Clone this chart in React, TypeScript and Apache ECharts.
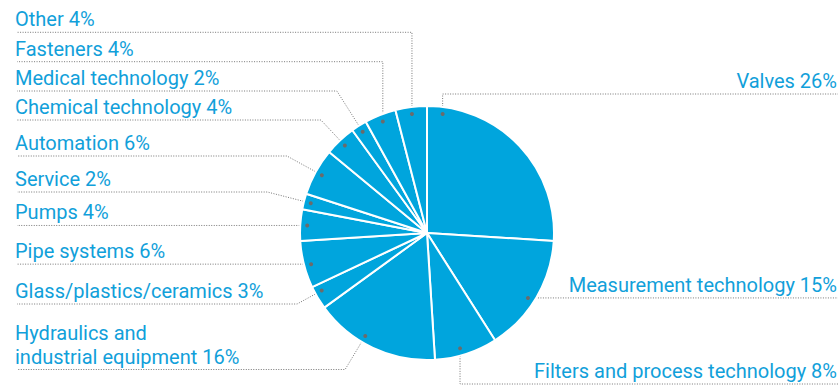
import { useEffect, useRef } from 'react';
import * as echarts from 'echarts';

// ---- data ----
const categories = [
  'Valves',
  'Measurement technology',
  'Filters and process technology',
  'Hydraulics and\nindustrial equipment',
  'Glass/plastics/ceramics',
  'Pipe systems',
  'Pumps',
  'Service',
  'Automation',
  'Chemical technology',
  'Medical technology',
  'Fasteners',
  'Other',
];
const shares = [26, 15, 8, 16, 3, 6, 4, 2, 6, 4, 2, 4, 4];

// ---- label layout (not data) ----
const labelSide = ['right', 'right', 'right', 'left', 'left', 'left', 'left', 'left', 'left', 'left', 'left', 'left', 'left'];
const underlineY: (number | null)[] = [94, null, 384, 369.5, 304, null, null, 192, 156, 120, 91, 61.7, 32.3];
const leaderMode = ['v', 'h', 'v', 'r', 'r', 'h', 'h', 'r', 'r', 'r', 'r', 'v', 'v'];
const anchorFrac = [0.08, 0.54, 0.57, 0.6, 0.68, 0.47, 0.5, 0.5, 0.5, 0.5, 0.5, 0.5, 0.5];

const CX = 427;
const CY = 233;
const R = 127;
const RD = 120;
const LEFT_X = 15;
const RIGHT_X = 837;
const TEXT_COLOR = '#11a0da';
const PIE_COLOR = '#00a5dd';
const LINE_COLOR = '#777777';

const total = shares.reduce((a, b) => a + b, 0);

function anchorInfo(i: number) {
  let cum = 0;
  for (let k = 0; k < i; k++) cum += shares[k];
  const clockDeg = ((cum + shares[i] * anchorFrac[i]) / total) * 360;
  const rad = (clockDeg * Math.PI) / 180;
  const dir = [Math.sin(rad), -Math.cos(rad)];
  return { x: CX + RD * dir[0], y: CY + RD * dir[1], dir };
}

function leader(i: number) {
  const a = anchorInfo(i);
  const mode = leaderMode[i];
  const ulY = mode === 'h' ? a.y : (underlineY[i] as number);
  let elbow: number[];
  if (mode === 'v' || mode === 'h') elbow = [a.x, ulY];
  else {
    const t = (ulY - a.y) / a.dir[1];
    elbow = [a.x + t * a.dir[0], ulY];
  }
  const endX = labelSide[i] === 'left' ? LEFT_X + 2 : RIGHT_X + 1;
  return { ulY, points: [[a.x, a.y], elbow, [endX, ulY]], anchor: a };
}

export default function App() {
  const ref = useRef<HTMLDivElement>(null);
  useEffect(() => {
    if (!ref.current) return;
    const chart = echarts.init(ref.current, undefined, { renderer: 'svg' });
    chart.setOption({
      animation: false,
      backgroundColor: '#fff',
      series: [
        {
          type: 'pie',
          center: [CX, CY],
          radius: R,
          startAngle: 90,
          clockwise: true,
          data: categories.map((name, i) => ({ name, value: shares[i] })),
          itemStyle: { color: PIE_COLOR, borderColor: '#fff', borderWidth: 2 },
          emphasis: { disabled: true },
          label: {
            show: true,
            position: 'outside',
            formatter: '{b} {c}%',
            color: TEXT_COLOR,
            fontFamily: 'Roboto',
            fontSize: 20,
            lineHeight: 24,
            overflow: 'none',
          },
          labelLine: {
            show: true,
            length: 10,
            length2: 10,
            lineStyle: { color: LINE_COLOR, width: 1, type: [1, 1.5] },
          },
          labelLayout: (params: any) => {
            const i = params.dataIndex;
            const l = leader(i);
            const left = labelSide[i] === 'left';
            return {
              x: left ? LEFT_X : RIGHT_X,
              y: l.ulY - 1,
              align: left ? 'left' : 'right',
              verticalAlign: 'bottom',
              labelLinePoints: l.points,
            };
          },
        },
      ],
      graphic: shares.map((_, i) => {
        const a = anchorInfo(i);
        return {
          type: 'circle',
          z: 100,
          shape: { cx: a.x, cy: a.y, r: 2 },
          style: { fill: '#6b6b6b' },
          silent: true,
        };
      }),
    });
    return () => chart.dispose();
  }, []);
  return <div ref={ref} style={{ position: 'fixed', left: 0, top: 0, width: 840, height: 386 }} />;
}
